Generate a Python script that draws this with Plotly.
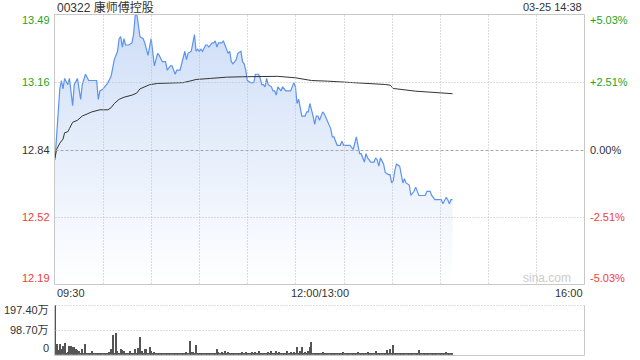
import plotly.graph_objects as go

# ---------------- data ----------------
title_text = "00322 康师傅控股"
stamp_text = "03-25 14:38"
prev_close = 12.84
price_ticks = ["13.49", "13.16", "12.84", "12.52", "12.19"]
pct_ticks = ["+5.03%", "+2.51%", "0.00%", "-2.51%", "-5.03%"]
time_ticks = ["09:30", "12:00/13:00", "16:00"]
vol_ticks = ["197.40万", "98.70万", "0"]

price_times = [
    "09:30", "09:33", "09:34", "09:35", "09:36", "09:38", "09:39", "09:41", "09:42", "09:44",
    "09:46", "09:47", "09:49", "09:51", "09:53", "09:56", "09:57", "09:58", "10:00", "10:01",
    "10:03", "10:05", "10:07", "10:09", "10:10", "10:11", "10:12", "10:13", "10:14", "10:16",
    "10:18", "10:19", "10:20", "10:21", "10:22", "10:23", "10:25", "10:26", "10:28", "10:30",
    "10:32", "10:34", "10:35", "10:37", "10:39", "10:40", "10:42", "10:43", "10:45", "10:46",
    "10:48", "10:49", "10:51", "10:52", "10:53", "10:55", "10:57", "10:58", "10:59", "11:00",
    "11:01", "11:02", "11:04", "11:05", "11:06", "11:08", "11:09", "11:10", "11:11", "11:12",
    "11:14", "11:15", "11:16", "11:17", "11:18", "11:19", "11:20", "11:21", "11:23", "11:24",
    "11:26", "11:27", "11:28", "11:29", "11:30", "11:32", "11:34", "11:35", "11:37", "11:38",
    "11:39", "11:40", "11:41", "11:42", "11:43", "11:45", "11:46", "11:47", "11:48", "11:49",
    "11:51", "11:52", "11:54", "11:57", "11:58", "11:59", "12:00", "13:01", "13:02", "13:03",
    "13:04", "13:06", "13:07", "13:08", "13:09", "13:11", "13:12", "13:13", "13:14", "13:15",
    "13:17", "13:18", "13:20", "13:22", "13:23", "13:24", "13:26", "13:27", "13:28", "13:29",
    "13:30", "13:34", "13:36", "13:37", "13:38", "13:39", "13:40", "13:41", "13:43", "13:44",
    "13:45", "13:47", "13:49", "13:50", "13:51", "13:52", "13:53", "13:55", "13:56", "13:58",
    "13:59", "14:00", "14:01", "14:02", "14:03", "14:05", "14:06", "14:07", "14:08", "14:09",
    "14:11", "14:12", "14:14", "14:15", "14:17", "14:19", "14:21", "14:22", "14:24", "14:25",
    "14:27", "14:29", "14:31", "14:32", "14:34", "14:35", "14:36", "14:37", "14:38",
]
price_vals = [
    12.79, 13.13, 13.17, 13.13, 13.18, 13.15, 13.18, 13.05, 13.15, 13.18,
    13.08, 13.15, 13.20, 13.17, 13.17, 13.17, 13.08, 13.12, 13.13, 13.14,
    13.16, 13.19, 13.27, 13.31, 13.37, 13.38, 13.33, 13.37, 13.34, 13.34,
    13.35, 13.39, 13.48, 13.49, 13.43, 13.38, 13.37, 13.35, 13.29, 13.37,
    13.24, 13.30, 13.29, 13.26, 13.26, 13.22, 13.24, 13.24, 13.20, 13.22,
    13.22, 13.25, 13.31, 13.27, 13.30, 13.31, 13.39, 13.31, 13.32, 13.31,
    13.32, 13.31, 13.34, 13.34, 13.33, 13.35, 13.35, 13.36, 13.33, 13.35,
    13.35, 13.36, 13.34, 13.33, 13.30, 13.31, 13.26, 13.25, 13.27, 13.30,
    13.31, 13.26, 13.25, 13.22, 13.17, 13.16, 13.16, 13.20, 13.20, 13.18,
    13.15, 13.15, 13.14, 13.18, 13.15, 13.14, 13.12, 13.12, 13.10, 13.14,
    13.12, 13.14, 13.12, 13.12, 13.14, 13.16, 13.14, 13.06, 13.08, 13.04,
    13.00, 13.00, 13.02, 13.02, 13.06, 13.00, 12.96, 13.00, 13.00, 12.98,
    13.02, 13.01, 12.97, 12.94, 12.90, 12.90, 12.86, 12.86, 12.86, 12.88,
    12.86, 12.86, 12.84, 12.87, 12.90, 12.86, 12.82, 12.82, 12.78, 12.82,
    12.80, 12.78, 12.78, 12.80, 12.79, 12.76, 12.80, 12.77, 12.73, 12.72,
    12.72, 12.68, 12.69, 12.74, 12.77, 12.76, 12.71, 12.68, 12.70, 12.68,
    12.67, 12.62, 12.64, 12.66, 12.62, 12.62, 12.62, 12.64, 12.64, 12.62,
    12.60, 12.60, 12.60, 12.58, 12.61, 12.60, 12.58, 12.60, 12.60,
]

avg_times = [
    "09:30", "09:31", "09:33", "09:35", "09:36", "09:38", "09:39", "09:41", "09:44", "09:47",
    "09:50", "09:53", "09:58", "10:03", "10:05", "10:07", "10:10", "10:13", "10:18", "10:21",
    "10:23", "10:26", "10:29", "10:34", "10:50", "10:54", "10:58", "11:07", "11:17", "11:27",
    "11:35", "11:49", "12:00", "13:10", "13:20", "13:34", "13:43", "13:56", "13:59", "14:01",
    "14:15", "14:25", "14:38",
]
avg_vals = [
    12.80, 12.84, 12.87, 12.89, 12.92, 12.925, 12.94, 12.97, 12.98, 13.00,
    13.01, 13.02, 13.03, 13.03, 13.04, 13.06, 13.08, 13.09, 13.10, 13.11,
    13.13, 13.14, 13.15, 13.156, 13.16, 13.167, 13.175, 13.18, 13.186, 13.188,
    13.19, 13.19, 13.183, 13.17, 13.167, 13.162, 13.156, 13.151, 13.148, 13.132,
    13.119, 13.114, 13.107,
]

# volume per minute (万股), from 09:30 onward
volume_vals = [
    197.4, 43, 20, 43, 23, 36, 47, 8, 12, 36,
    36, 30, 32, 21, 19, 16, 5, 23, 6, 43,
    5, 4, 3, 16, 6, 4, 7, 5, 4, 6,
    5, 4, 7, 5, 9, 23, 80, 5, 87, 16,
    6, 23, 20, 13, 6, 5, 7, 13, 5, 6,
    23, 7, 27, 71, 16, 5, 24, 24, 6, 31,
    13, 6, 9, 7, 5, 7, 4, 5, 3, 6,
    4, 5, 3, 6, 4, 3, 5, 6, 4, 8,
    3, 5, 11, 4, 56, 9, 9, 5, 40, 6,
    7, 5, 7, 4, 6, 7, 4, 5, 6, 4,
    5, 23, 9, 5, 9, 4, 13, 5, 11, 4,
    6, 4, 7, 5, 6, 4, 5, 12, 4, 9,
    5, 6, 4, 9, 5, 9, 4, 13, 5, 6,
    4, 7, 5, 9, 5, 13, 4, 6, 13, 5,
    9, 4, 6, 7, 5, 13, 4, 11, 6, 9,
    4, 29, 5, 13, 29, 4, 9, 5, 13, 29,
    51, 4, 6, 5, 6, 4, 7, 11, 5, 6,
    7, 4, 6, 5, 7, 4, 6, 5, 4, 6,
    9, 5, 4, 6, 7, 5, 4, 6, 5, 11,
    5, 4, 6, 5, 7, 9, 5, 4, 6, 5,
    13, 5, 4, 6, 5, 4, 7, 17, 5, 23,
    5, 39, 6, 5, 7, 5, 6, 4, 7, 5,
    6, 4, 5, 7, 6, 4, 5, 19, 5, 4,
    6, 5, 4, 6, 7, 4, 5, 6, 4, 5,
    6, 4, 5, 6, 11, 4, 7, 5, 6,
]


def to_idx(t):
    h, m = map(int, t.split(":"))
    v = h * 60 + m
    if v <= 12 * 60:
        return v - (9 * 60 + 30)
    return v - 13 * 60 + 150


price_x = [to_idx(t) for t in price_times]
avg_x = [to_idx(t) for t in avg_times]
vol_x = list(range(len(volume_vals)))

# ---------------- geometry ----------------
W, H = 640, 360
X0, X1 = 55, 584
MT, MB = 14.5, 284.5
VT, VB = 305, 354.7
pmin = prev_close * (1 - 0.0503)
pmax = prev_close * (1 + 0.0503)
vmax = 197.4

FONT = "Liberation Sans, Arial, Noto Sans CJK SC, sans-serif"
GREEN = "#1ea51e"
RED = "#f03c3c"
DARK = "#333333"
GRID = "#bcbcbc"
BORDER = "#c8c8c8"
DOT = "1px,2px"

fig = go.Figure()

fig.add_trace(go.Scatter(
    x=price_x, y=price_vals, mode="lines",
    line=dict(color="#5b93ef", width=1.2),
    fill="tozeroy",
    fillgradient=dict(type="vertical",
                      colorscale=[[0, "rgba(255,255,255,1)"], [1, "rgb(205,221,247)"]],
                      start=pmin, stop=pmax),
    xaxis="x", yaxis="y", hoverinfo="skip", showlegend=False,
))
fig.add_trace(go.Scatter(
    x=avg_x, y=avg_vals, mode="lines",
    line=dict(color="#333333", width=1),
    xaxis="x", yaxis="y", hoverinfo="skip", showlegend=False,
))
fig.add_trace(go.Bar(
    x=vol_x, y=volume_vals, width=0.7,
    marker=dict(color="#555555", line=dict(width=0)),
    xaxis="x2", yaxis="y2", hoverinfo="skip", showlegend=False,
))

xdom = [X0 / W, X1 / W]
axis_common = dict(showgrid=False, zeroline=False, showticklabels=False, ticks="",
                   showline=False, fixedrange=True)
fig.update_layout(
    width=W, height=H, autosize=False,
    margin=dict(l=0, r=0, t=0, b=0, pad=0),
    paper_bgcolor="white", plot_bgcolor="rgba(0,0,0,0)",
    font=dict(family=FONT, size=11, color=DARK),
    bargap=0,
    xaxis=dict(domain=xdom, range=[0, 330], anchor="y", **axis_common),
    yaxis=dict(domain=[1 - MB / H, 1 - MT / H], range=[pmin, pmax], anchor="x", **axis_common),
    xaxis2=dict(domain=xdom, range=[0, 330], anchor="y2", **axis_common),
    yaxis2=dict(domain=[1 - VB / H, 1 - VT / H], range=[0, vmax], anchor="x2", **axis_common),
)


def px_x(col):
    return (col + 0.5) / W


def px_y(row):
    return 1 - (row + 0.5) / H


shapes = []


def hline(row, xa, xb, color, dash=None, layer="above"):
    ln = dict(color=color, width=1)
    if dash:
        ln["dash"] = dash
    shapes.append(dict(type="line", xref="paper", yref="paper", x0=px_x(xa), x1=px_x(xb),
                       y0=px_y(row), y1=px_y(row), layer=layer, line=ln))


def vline(col, ra, rb, color, dash=None, layer="above"):
    ln = dict(color=color, width=1)
    if dash:
        ln["dash"] = dash
    shapes.append(dict(type="line", xref="paper", yref="paper", x0=px_x(col), x1=px_x(col),
                       y0=px_y(ra), y1=px_y(rb), layer=layer, line=ln))


# vertical dotted grid every 30 minutes in main panel
for k in range(1, 11):
    vline(int(55.4 + 48.1 * k), 15, 284, GRID, DOT)
# horizontal grid
hline(82, 55, 584, GRID, DOT)
hline(217, 55, 584, GRID, DOT)
hline(150, 55, 584, "#a8a8a8", "3px,2px")
# main box
hline(14, 54, 584, BORDER)
hline(284, 54, 584, BORDER)
vline(54, 14, 284, BORDER)
vline(584, 14, 284, BORDER)
# volume panel frame
hline(305, 55, 584, GRID, DOT)
hline(330, 55, 584, GRID, DOT)
hline(355, 54, 584, BORDER)
vline(54, 305, 355, BORDER)
vline(584, 305, 355, BORDER)
fig.update_layout(shapes=shapes)

ann = []


def txt(text, x, y, xanchor, color=DARK, size=11):
    ann.append(dict(text=text, x=x / W, y=1 - y / H, xref="paper", yref="paper",
                    xanchor=xanchor, yanchor="middle", showarrow=False,
                    font=dict(family=FONT, size=size, color=color)))


txt(title_text, 55, 7, "left", size=12)
txt(stamp_text, 584, 7, "right")
label_y = [20, 82, 150, 217, 278]
label_col = [GREEN, GREEN, DARK, RED, RED]
for s, yy, c in zip(price_ticks, label_y, label_col):
    txt(s, 52, yy, "right", c)
for s, yy, c in zip(pct_ticks, label_y, label_col):
    txt(s, 588, yy, "left", c)
txt(time_ticks[0], 55, 293, "left")
txt(time_ticks[1], (X0 + X1) / 2 + 0.5, 293, "center")
txt(time_ticks[2], 585, 293, "right")
for s, yy in zip(vol_ticks, [310, 330, 348]):
    txt(s, 51, yy, "right")
txt("sina.com", 573, 278, "right", "#cccccc", 12)
fig.update_layout(annotations=ann)

fig.write_html("out.html")
